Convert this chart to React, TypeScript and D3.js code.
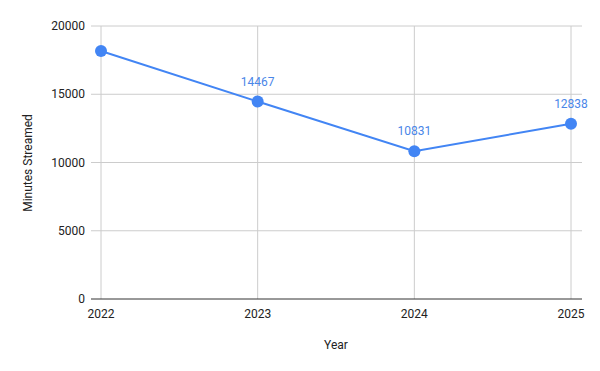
import React from "react";
import * as d3 from "d3";

const years = ["2022", "2023", "2024", "2025"];
const minutes = [18168, 14467, 10831, 12838];
const showLabel = [false, true, true, true];
const yTicks = [0, 5000, 10000, 15000, 20000];

export default function App() {
  const W = 600, H = 371;
  const plotL = 91, plotR = 582, plotT = 26, plotB = 299;
  const x = d3.scalePoint<string>().domain(years).range([101, 571]);
  const y = d3.scaleLinear().domain([0, 20000]).range([plotB, plotT]);
  const line = d3.line<number>().x((_, i) => x(years[i])!).y((d) => y(d));
  const font = "Roboto, Arial, sans-serif";
  return (
    <svg width={W} height={H} style={{ position: "absolute", left: 0, top: 0, background: "#fff" }}>
      <rect x={0} y={0} width={W} height={H} fill="#fff" />
      {yTicks.map((t) => (
        <g key={t}>
          {t !== 0 && <line x1={plotL} x2={plotR} y1={y(t)} y2={y(t)} stroke="#cccccc" strokeWidth={1} />}
          <text x={85} y={y(t) + 4} textAnchor="end" fontFamily={font} fontSize={12} fill="#222">{t}</text>
        </g>
      ))}
      {years.map((yr) => (
        <g key={yr}>
          <line x1={x(yr)} x2={x(yr)} y1={plotT} y2={plotB} stroke="#cccccc" strokeWidth={1} />
          <text x={x(yr)} y={318} textAnchor="middle" fontFamily={font} fontSize={12} fill="#222">{yr}</text>
        </g>
      ))}
      <line x1={plotL} x2={plotR} y1={plotB} y2={plotB} stroke="#333" strokeWidth={1} />
      <path d={line(minutes) || ""} fill="none" stroke="#4285f4" strokeWidth={2} />
      {minutes.map((v, i) => (
        <g key={i}>
          <circle cx={x(years[i])} cy={y(v)} r={6} fill="#4285f4" />
          {showLabel[i] && (
            <text x={x(years[i])} y={y(v) - 16} textAnchor="middle" fontFamily={font} fontSize={12} fill="#4a86e8">{v}</text>
          )}
        </g>
      ))}
      <text x={336} y={349} textAnchor="middle" fontFamily={font} fontSize={12} fill="#222">Year</text>
      <text transform={`translate(32,163) rotate(-90)`} textAnchor="middle" fontFamily={font} fontSize={12} fill="#222">Minutes Streamed</text>
    </svg>
  );
}
